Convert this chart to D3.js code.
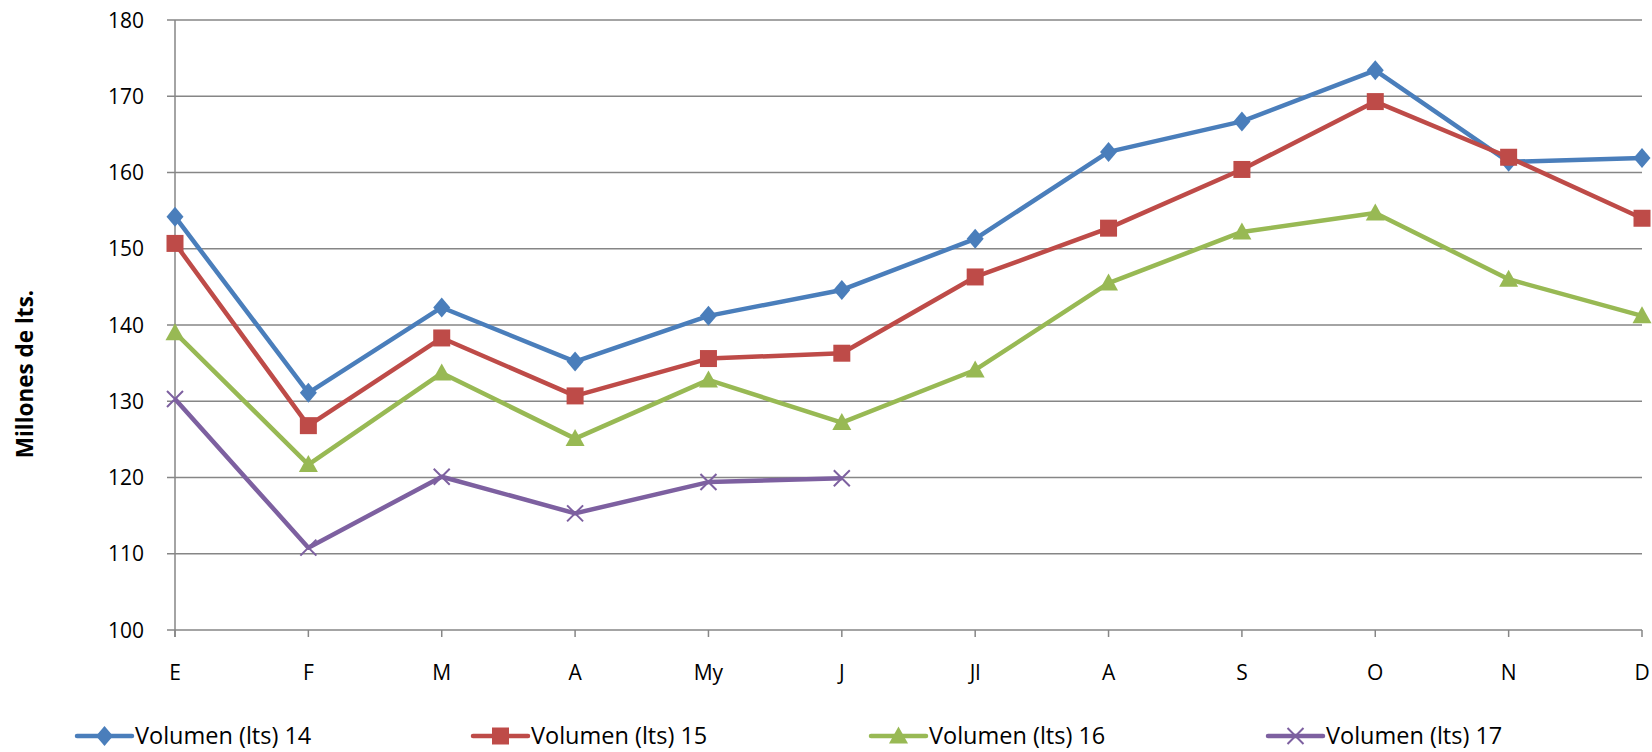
<!DOCTYPE html>
<html><head><meta charset="utf-8">
<script src="https://cdn.jsdelivr.net/npm/d3@7"></script>
<style>
html,body{margin:0;padding:0;background:#fff;}
svg text{font-family:"Open Sans","Liberation Sans",sans-serif;fill:#000;}
</style></head>
<body><svg id="c" width="1652" height="752"></svg>
<script>
const months = ["E","F","M","A","My","J","Jl","A","S","O","N","D"];
const yTicks = [100,110,120,130,140,150,160,170,180];
const seriesNames = ["Volumen (lts) 14","Volumen (lts) 15","Volumen (lts) 16","Volumen (lts) 17"];
const v14 = [154.2,131.1,142.3,135.2,141.2,144.6,151.3,162.7,166.7,173.4,161.4,161.9];
const v15 = [150.7,126.8,138.3,130.7,135.6,136.3,146.3,152.7,160.4,169.3,162.0,154.0];
const v16 = [139.0,121.7,133.7,125.1,132.8,127.2,134.1,145.5,152.2,154.7,146.0,141.2];
const v17 = [130.3,110.8,120.1,115.3,119.4,119.9];
const colors = ["#4A7EBB","#BE4B48","#98B954","#7D60A0"];
const markers = ["diamond","square","triangle","x"];

const svg = d3.select("#c");
const L = 175, R = 1642, T = 20, B = 630;
const x = d3.scalePoint().domain(d3.range(months.length)).range([L,R]);
const y = d3.scaleLinear().domain([100,180]).range([B,T]);
const gridColor = "#868686";

// gridlines
svg.append("g").selectAll("line").data(yTicks).join("line")
  .attr("x1",L-8).attr("x2",R).attr("y1",d=>y(d)).attr("y2",d=>y(d))
  .attr("stroke",gridColor).attr("stroke-width",1.5);
// y axis line
svg.append("line").attr("x1",L).attr("x2",L).attr("y1",T).attr("y2",B+7)
  .attr("stroke",gridColor).attr("stroke-width",1.5);
// y labels
svg.append("g").selectAll("text").data(yTicks).join("text")
  .attr("x",L-31).attr("y",d=>y(d)).attr("dy","0.36em").attr("text-anchor","end")
  .attr("font-size",21).text(d=>d);
// x ticks
svg.append("g").selectAll("line").data(d3.range(months.length)).join("line")
  .attr("x1",d=>x(d)).attr("x2",d=>x(d)).attr("y1",B).attr("y2",B+7)
  .attr("stroke",gridColor).attr("stroke-width",1.5);
svg.append("g").selectAll("text").data(months).join("text")
  .attr("x",(d,i)=>x(i)).attr("y",672).attr("dy","0.36em").attr("text-anchor","middle")
  .attr("font-size",21).text(d=>d);
// y title
svg.append("text").attr("transform","translate(33,374) rotate(-90)")
  .attr("text-anchor","middle").attr("font-size",22.5).attr("font-weight","bold")
  .text("Millones de lts.");

function markerPath(type){
  switch(type){
    case "diamond": return "M0,-10L8.5,0L0,10L-8.5,0Z";
    case "square": return "M-8.5,-8.5H8.5V8.5H-8.5Z";
    case "triangle": return "M0,-9.5L9.5,7.5H-9.5Z";
    case "x": return "M-8,-8L8,8M-8,8L8,-8";
  }
}
function drawMarker(g,type,color,cx,cy){
  const p = g.append("path").attr("d",markerPath(type)).attr("transform",`translate(${cx},${cy})`);
  if(type==="x") p.attr("fill","none").attr("stroke",color).attr("stroke-width",2);
  else p.attr("fill",color).attr("stroke","none");
}

const allSeries = [v14,v15,v16,v17];
const line = d3.line().x((d,i)=>x(i)).y(d=>y(d));
allSeries.forEach((vals,si)=>{
  const g = svg.append("g");
  g.append("path").datum(vals).attr("d",line).attr("fill","none")
    .attr("stroke",colors[si]).attr("stroke-width",4.5).attr("stroke-linejoin","round");
  vals.forEach((v,i)=>drawMarker(g,markers[si],colors[si],x(i),y(v)));
});

// legend
const legX = [77,473,871,1268], legY = 736;
seriesNames.forEach((name,si)=>{
  const g = svg.append("g");
  g.append("line").attr("x1",legX[si]).attr("x2",legX[si]+55).attr("y1",legY).attr("y2",legY)
    .attr("stroke",colors[si]).attr("stroke-width",4.5).attr("stroke-linecap","round");
  drawMarker(g,markers[si],colors[si],legX[si]+27.5,legY);
  g.append("text").attr("x",legX[si]+58).attr("y",legY).attr("dy","0.36em")
    .attr("font-size",23.5).text(name);
});
</script></body></html>
